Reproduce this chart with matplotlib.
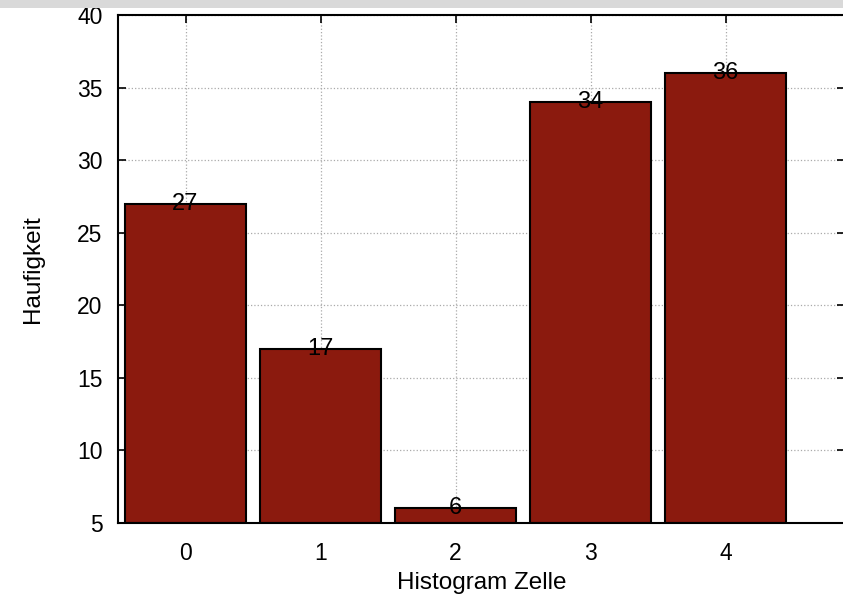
import matplotlib.pyplot as plt
from matplotlib.patches import Rectangle

# Histogram counts per cell
cells = [0, 1, 2, 3, 4]
counts = [27, 17, 6, 34, 36]

plt.rcParams['font.family'] = ['Liberation Sans', 'DejaVu Sans']

fig = plt.figure(figsize=(8.43, 6), dpi=100)
ax = fig.add_axes([118 / 843, 77 / 600, 727 / 843, 508 / 600])

# grey strip along the top edge
fig.patches.append(Rectangle((0, 1 - 8 / 600), 1, 8 / 600, transform=fig.transFigure,
                             facecolor='#d9d9d9', edgecolor='none'))

ax.bar(cells, [c - 5 for c in counts], bottom=5, width=0.9, color='#8b1a0e',
       edgecolor='black', linewidth=1.5, zorder=2)

for x, c in zip(cells, counts):
    ax.text(x, c, str(c), ha='center', va='center', fontsize=17, zorder=3)

ax.set_xlim(-0.5, 4.885)
ax.set_ylim(5, 40)
ax.set_xticks(cells)
ax.set_yticks(range(5, 41, 5))
ax.grid(True, linestyle=':', color='#aaaaaa', linewidth=0.9, zorder=0)
ax.set_axisbelow(True)
ax.tick_params(direction='in', top=True, right=True, length=6, width=1.2,
               labelsize=16.5)
ax.tick_params(axis='x', pad=14)
ax.tick_params(axis='y', pad=11)
for s in ax.spines.values():
    s.set_linewidth(1.5)

ax.set_xlabel('Histogram Zelle', fontsize=17.5, labelpad=5)
ax.set_ylabel('Haufigkeit', fontsize=17.5, labelpad=24)

fig.savefig('out.png', dpi=100)
